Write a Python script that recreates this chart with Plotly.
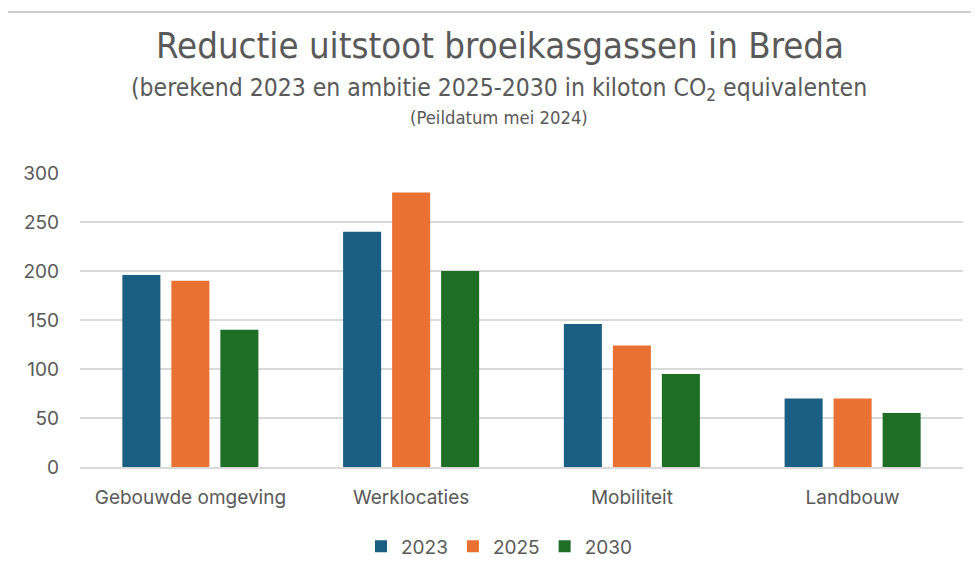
import plotly.graph_objects as go

categories = ["Gebouwde omgeving", "Werklocaties", "Mobiliteit", "Landbouw"]
years = ["2023", "2025", "2030"]
values_2023 = [196, 240, 146, 70]
values_2025 = [190, 280, 124, 70]
values_2030 = [140, 200, 95, 55]
colors = ["#1b5e83", "#e97132", "#1e6e26"]

series = [values_2023, values_2025, values_2030]

fig = go.Figure()
for name, vals, col in zip(years, series, colors):
    fig.add_trace(go.Bar(x=categories, y=vals, name=name, marker=dict(color=col, line=dict(width=0))))

narrow = "Liberation Sans Narrow, DejaVu Sans Condensed, Arial Narrow, sans-serif"
body = "Inter, Lato, Open Sans, sans-serif"
grey = "#595959"

# page offset of 8px (body margin); plot area in page: x 80..963, y 173..469
PX0, PX1, PY0, PY1 = 80, 963, 173, 469
def px(x):
    return (x - PX0) / (PX1 - PX0)
def py(y):
    return (PY1 - y) / (PY1 - PY0)

fig.update_layout(
    width=971, height=570,
    paper_bgcolor="white", plot_bgcolor="white",
    margin=dict(l=72, r=16, t=165, b=109),
    barmode="group", bargap=0.334, bargroupgap=0.224,
    font=dict(family=body, color=grey, size=19),
    showlegend=True,
    legend=dict(orientation="h", x=px(499), xanchor="center", y=py(549), yanchor="middle",
                font=dict(size=19, color=grey), itemwidth=30, traceorder="normal"),
    xaxis=dict(showgrid=False, showline=True, linecolor="#d9d9d9", linewidth=2,
               ticks="", tickfont=dict(size=19, color=grey), ticklabelstandoff=12),
    yaxis=dict(range=[0, 300], dtick=50, showgrid=True, gridcolor="#d9d9d9", gridwidth=2,
               zeroline=False, ticks="", tickfont=dict(size=19, color=grey), ticklabelstandoff=20),
    annotations=[
        dict(text="Reductie uitstoot broeikasgassen in Breda", xref="paper", yref="paper",
             x=px(500), y=py(45), xanchor="center", yanchor="middle", showarrow=False,
             font=dict(family=narrow, size=36.3, color=grey)),
        dict(text="(berekend 2023 en ambitie 2025-2030 in kiloton CO<sub>2</sub> equivalenten", xref="paper", yref="paper",
             x=px(499), y=py(88), xanchor="center", yanchor="middle", showarrow=False,
             font=dict(family=narrow, size=24.5, color=grey)),
        dict(text="(Peildatum mei 2024)", xref="paper", yref="paper",
             x=px(499), y=py(117), xanchor="center", yanchor="middle", showarrow=False,
             font=dict(family=narrow, size=18.3, color=grey)),
    ],
    shapes=[
        dict(type="line", xref="paper", yref="paper", x0=px(7), x1=px(7),
             y0=py(11), y1=py(600), line=dict(color="#d0d0d0", width=2)),
        dict(type="line", xref="paper", yref="paper", x0=px(7), x1=px(1000),
             y0=py(11), y1=py(11), line=dict(color="#d0d0d0", width=2)),
    ],
)

fig.write_html("out.html")
